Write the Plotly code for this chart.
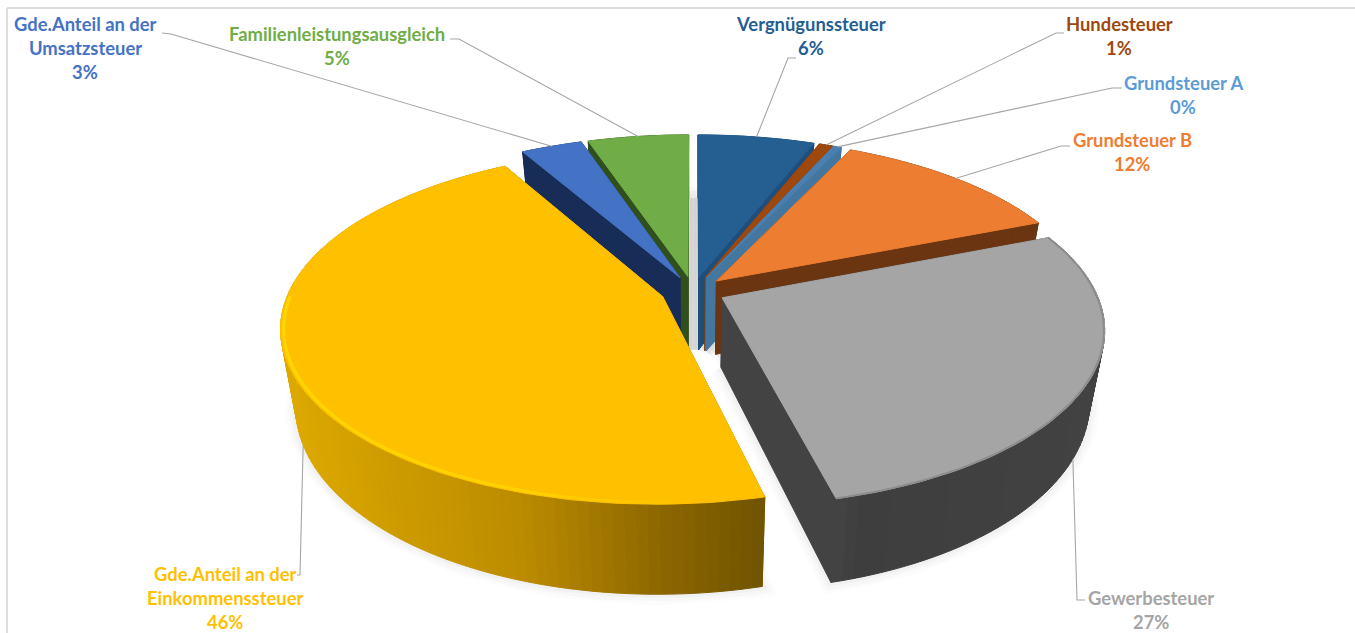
import math
import plotly.graph_objects as go

# ---- data -------------------------------------------------------------
categories = ["Vergnügunssteuer", "Hundesteuer", "Grundsteuer A", "Grundsteuer B",
              "Gewerbesteuer", "Gde.Anteil an der Einkommenssteuer",
              "Gde.Anteil an der Umsatzsteuer", "Familienleistungsausgleich"]
values = [5.9, 0.7, 0.4, 11.9, 27.1, 45.5, 3.1, 5.1]
percent_labels = ["6%", "1%", "0%", "12%", "27%", "46%", "3%", "5%"]
label_lines = [["Vergnügunssteuer"], ["Hundesteuer"], ["Grundsteuer A"], ["Grundsteuer B"],
               ["Gewerbesteuer"], ["Gde.Anteil an der", "Einkommenssteuer"],
               ["Gde.Anteil an der", "Umsatzsteuer"], ["Familienleistungsausgleich"]]

# ---- styles ------------------------------------------------------------
top_colors = ["#255E91", "#9E480E", "#4A7FB0", "#ED7D31", "#A5A5A5", "#FFC000", "#4472C4", "#70AD47"]
text_colors = ["#255E91", "#9E480E", "#5B9BD5", "#ED7D31", "#A5A5A5", "#FFC000", "#4472C4", "#70AD47"]
wall_colors = ["#1E4F7C", "#7D3A0B", "#43779F", "#6A3510", "#434343", "#8A6400", "#182C58", "#2F4F1C"]
depth_adjust = [0, 0, 0, 0, -5, 1, 0, 0]
draw_order = [7, 6, 0, 1, 2, 3, 4, 5]
# label centre x, first line y, elbow points (from the label toward the slice)
label_pos = {0: (811, 24), 1: (1119, 24), 2: (1183, 83), 3: (1132, 140),
             4: (1151, 598), 5: (225, 574), 6: (85, 24), 7: (337, 34)}
leader_start = {0: [(796, 58), (788, 58)], 1: [(1064, 33), (1056, 33)], 2: [(1122, 88), (1112, 88)],
                3: [(1070, 146), (1061, 146)], 4: [(1085, 600), (1077, 600)],
                5: [(297, 575), (300, 575)], 6: [(162, 33), (171, 34)], 7: [(450, 39), (459, 39)]}
leader_on_bottom = {4, 5}
LINE_H = 24
FONT = "Lato"
FONT_SIZE = 18.4

# ---- projection ----------------------------------------------------------
CX, CY, R, K, P, EXPL, SCALE = 693, 291, 373.5, 170.3, 0.17, 0.087, 0.963


def proj(u, v):
    w = 1 + P * v
    return CX + R * u / w, CY - K * v / w


def lower(pt, adj=0):
    x, y = pt
    return CX + SCALE * (x - CX), y + 73 + adj + 0.07 * (y - 275)


total = sum(values)
edges = [0.0]
for val in values:
    edges.append(edges[-1] + val / total * 360)


def slice_pt(i, deg, r=1.0):
    mid = math.radians((edges[i] + edges[i + 1]) / 2)
    t = math.radians(deg)
    return proj(r * math.sin(t) + EXPL * math.sin(mid), r * math.cos(t) + EXPL * math.cos(mid))


def arc(i, a=None, b=None, r=1.0):
    a = edges[i] if a is None else a
    b = edges[i + 1] if b is None else b
    n = max(3, int((b - a) / 1.5) + 1)
    return [slice_pt(i, a + (b - a) * k / (n - 1), r) for k in range(n)]


fig = go.Figure()


def poly(points, color, line_color=None, lw=1.0):
    xs = [p[0] for p in points] + [points[0][0]]
    ys = [p[1] for p in points] + [points[0][1]]
    fig.add_trace(go.Scatter(x=xs, y=ys, mode="lines", fill="toself", fillcolor=color,
                             line=dict(color=line_color or color, width=lw),
                             hoverinfo="skip", showlegend=False))


def line(points, color, width):
    fig.add_trace(go.Scatter(x=[p[0] for p in points], y=[p[1] for p in points], mode="lines",
                             line=dict(color=color, width=width), hoverinfo="skip", showlegend=False))


def mix(stops, t):
    t = max(0.0, min(1.0, t))
    for (t0, c0), (t1, c1) in zip(stops, stops[1:]):
        if t <= t1:
            f = (t - t0) / (t1 - t0)
            return "rgb(%d,%d,%d)" % tuple(round(a + (b - a) * f) for a, b in zip(c0, c1))
    return "rgb(%d,%d,%d)" % stops[-1][1]


def rim_color(i, x):
    if i == 5:
        return mix([(0.0, (222, 170, 0)), (0.5, (188, 140, 0)), (0.8, (140, 102, 0)), (1.0, (112, 84, 0))],
                   (x - 290) / (765 - 290))
    if i == 4:
        return mix([(0.0, (70, 70, 70)), (0.1, (62, 62, 62)), (1.0, (66, 66, 66))], (x - 833) / (1090 - 833))
    return wall_colors[i]


# soft shadows under the outer bottom edges
for i in draw_order:
    adj = depth_adjust[i]
    pts = [lower(p, adj) for p in arc(i)]
    apex = lower(slice_pt(i, 0, 0.0), adj)
    outline = [apex] + pts + [apex]
    for w, a in ((22, 0.012), (15, 0.018), (8, 0.025)):
        line(outline, "rgba(0,0,0,%.3f)" % a, w)

for i in draw_order:
    adj = depth_adjust[i]
    apex = slice_pt(i, 0, 0.0)
    pts = arc(i)
    # cut walls
    for outer in (pts[0], pts[-1]):
        poly([apex, outer, lower(outer, adj), lower(apex, adj)], wall_colors[i])
    # rim
    for p, q in zip(pts, pts[1:]):
        poly([p, q, lower(q, adj), lower(p, adj)], rim_color(i, lower(p)[0]))
    # top
    poly([apex] + pts, top_colors[i])
    # rim highlight
    if i == 5:
        seg = arc(i, edges[i] + 8, edges[i] + 104, 0.992)
        for k, (p, q) in enumerate(zip(seg, seg[1:])):
            line([p, q], mix([(0.0, (255, 192, 0)), (0.25, (255, 210, 0)), (1.0, (255, 218, 0))],
                             k / (len(seg) - 2)), 3)
    if i == 4:
        line(arc(i, r=0.998), "#8C8C8C", 1.8)

# leader lines, ending on the slice they belong to
for i in range(len(values)):
    mid = (edges[i] + edges[i + 1]) / 2
    end = slice_pt(i, mid)
    if i in leader_on_bottom:
        end = lower(end, depth_adjust[i])
    line(leader_start[i] + [end], "#A6A6A6", 1.1)

# labels, one annotation per line
annotations = []
for i in range(len(values)):
    cx, y0 = label_pos[i]
    for k, txt in enumerate(label_lines[i] + [percent_labels[i]]):
        annotations.append(dict(x=cx, y=y0 + k * LINE_H, text="<b>%s</b>" % txt, showarrow=False,
                                xanchor="center", yanchor="middle",
                                font=dict(family=FONT, size=FONT_SIZE, color=text_colors[i])))

fig.update_layout(
    width=1355, height=633, margin=dict(l=0, r=0, t=0, b=0),
    paper_bgcolor="white", plot_bgcolor="white", showlegend=False,
    xaxis=dict(range=[0, 1355], visible=False, fixedrange=True),
    yaxis=dict(range=[633, 0], visible=False, fixedrange=True),
    annotations=annotations,
    shapes=[
        dict(type="line", xref="x", yref="y", x0=7, x1=1355, y0=8, y1=8, line=dict(color="#DDDDDD", width=2), layer="below"),
        dict(type="line", xref="x", yref="y", x0=7, x1=7, y0=8, y1=633, line=dict(color="#DDDDDD", width=2), layer="below"),
        dict(type="rect", xref="x", yref="y", x0=687, x1=698, y0=198, y1=350, fillcolor="#E8E8E8", line=dict(width=0), layer="below"),
    ],
)
fig.write_html("out.html", config=dict(displayModeBar=False),
               post_script="document.body.style.margin='0';")
